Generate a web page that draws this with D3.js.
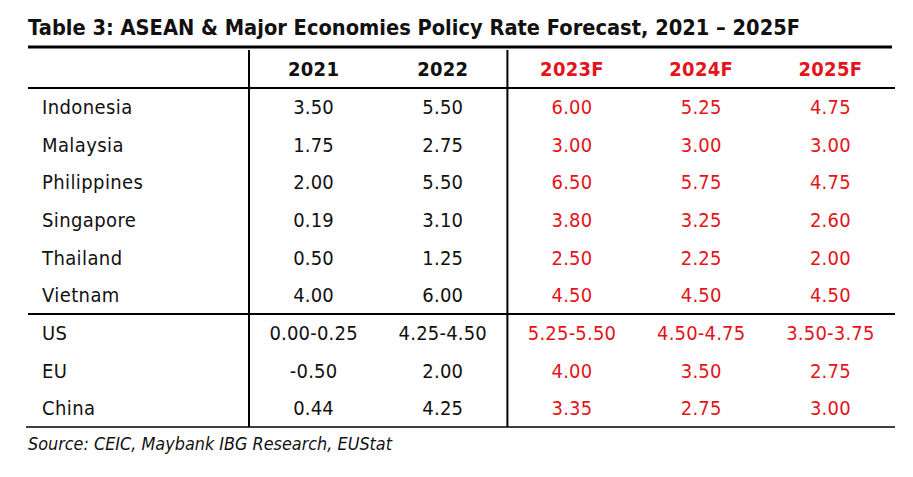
<!DOCTYPE html>
<html><head><meta charset="utf-8">
<script src="https://cdn.jsdelivr.net/npm/d3@7"></script>
<style>body{margin:0;background:#fff}svg{display:block}</style>
</head><body>
<svg id="c" width="913" height="477"></svg>
<script>
const title = "Table 3: ASEAN & Major Economies Policy Rate Forecast, 2021 \u2013 2025F";
const source = "Source: CEIC, Maybank IBG Research, EUStat";
const columns = ["2021", "2022", "2023F", "2024F", "2025F"];
const forecastCols = ["2023F", "2024F", "2025F"];
const countries = ["Indonesia", "Malaysia", "Philippines", "Singapore", "Thailand", "Vietnam", "US", "EU", "China"];
const v2021 = ["3.50", "1.75", "2.00", "0.19", "0.50", "4.00", "0.00-0.25", "-0.50", "0.44"];
const v2022 = ["5.50", "2.75", "5.50", "3.10", "1.25", "6.00", "4.25-4.50", "2.00", "4.25"];
const v2023F = ["6.00", "3.00", "6.50", "3.80", "2.50", "4.50", "5.25-5.50", "4.00", "3.35"];
const v2024F = ["5.25", "3.00", "5.75", "3.25", "2.25", "4.50", "4.50-4.75", "3.50", "2.75"];
const v2025F = ["4.75", "3.00", "4.75", "2.60", "2.00", "4.50", "3.50-3.75", "2.75", "3.00"];
const groupBreakAfter = "Vietnam";

const FONT = "'DejaVu Sans Condensed', 'DejaVu Sans', Verdana, sans-serif";
const RED = "#e3141b", BLACK = "#111";
const svg = d3.select("#c");

const x = d3.scaleBand().domain(columns).range([249, 895]);
const y = d3.scaleBand().domain(countries).range([88, 427]);
const left = 28, right = 895;

const values = {"2021": v2021, "2022": v2022, "2023F": v2023F, "2024F": v2024F, "2025F": v2025F};
const rows = countries.map((c, i) => ({country: c, vals: columns.map(k => ({col: k, v: values[k][i]}))}));

// title
svg.append("text").attr("x", left).attr("y", 35)
  .attr("font-family", "'DejaVu Sans', Verdana, sans-serif").attr("font-weight", "bold")
  .attr("font-size", 20.5).attr("fill", BLACK)
  .attr("textLength", 772).attr("lengthAdjust", "spacingAndGlyphs")
  .text(title);

// lines
svg.append("line").attr("x1", left).attr("x2", right - 3).attr("y1", 47).attr("y2", 47)
  .attr("stroke", "#000").attr("stroke-width", 3);
svg.append("line").attr("x1", left).attr("x2", right).attr("y1", 88).attr("y2", 88)
  .attr("stroke", "#000").attr("stroke-width", 2);
const yb = y(groupBreakAfter) + y.bandwidth();
svg.append("line").attr("x1", left).attr("x2", right).attr("y1", yb).attr("y2", yb)
  .attr("stroke", "#000").attr("stroke-width", 2);
svg.append("line").attr("x1", 26).attr("x2", right).attr("y1", 427).attr("y2", 427)
  .attr("stroke", "#000").attr("stroke-width", 1.5);
[x.range()[0], x(forecastCols[0])].forEach(vx => {
  svg.append("line").attr("x1", vx).attr("x2", vx).attr("y1", 50).attr("y2", 427)
    .attr("stroke", "#000").attr("stroke-width", 2);
});

// header
svg.selectAll("text.h").data(columns).join("text").attr("class", "h")
  .attr("x", d => x(d) + x.bandwidth() / 2).attr("y", 75.5)
  .attr("text-anchor", "middle").attr("font-family", FONT).attr("font-weight", "bold")
  .attr("font-size", 20).attr("letter-spacing", 0.3)
  .attr("fill", d => forecastCols.includes(d) ? RED : BLACK)
  .text(d => d);

// rows
const g = svg.selectAll("g.r").data(rows).join("g").attr("class", "r")
  .attr("transform", d => `translate(0,${y(d.country) + y.bandwidth() / 2})`);
g.append("text").attr("x", 42).attr("dy", "0.36em")
  .attr("font-family", FONT).attr("font-size", 20).attr("letter-spacing", 0.4).attr("fill", BLACK)
  .text(d => d.country);
g.selectAll("text.v").data(d => d.vals).join("text").attr("class", "v")
  .attr("x", d => x(d.col) + x.bandwidth() / 2).attr("dy", "0.36em")
  .attr("text-anchor", "middle").attr("font-family", FONT).attr("font-size", 20)
  .attr("letter-spacing", 0.2)
  .attr("fill", d => forecastCols.includes(d.col) ? RED : BLACK)
  .text(d => d.v);

// source
svg.append("text").attr("x", left).attr("y", 450)
  .attr("font-family", FONT).attr("font-style", "italic").attr("font-size", 17.5)
  .attr("textLength", 364).attr("lengthAdjust", "spacingAndGlyphs")
  .attr("fill", BLACK).text(source);
</script>
</body></html>
